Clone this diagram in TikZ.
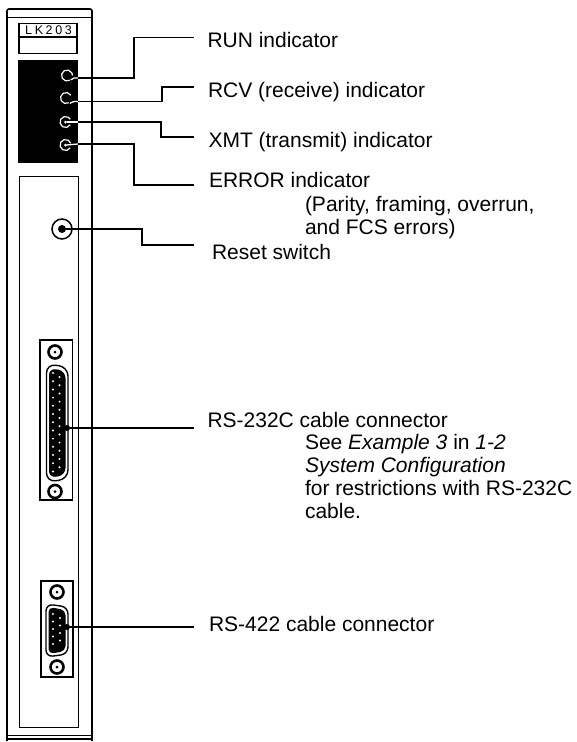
\documentclass[tikz,border=0pt]{standalone}
\usepackage{fontspec}
\setmainfont{Liberation Sans}
\tikzset{
 thick line/.style={line width=1.6pt},
 thin line/.style={line width=0.9pt},
 leader/.style={line width=1.3pt},
 lbl/.style={anchor=base west,inner sep=0pt,outer sep=0pt,font=\fontsize{21}{24}\selectfont,align=left},
 led/.style={circle,minimum size=10pt,inner sep=0pt},
 ledring/.style={white,line width=1.2pt},
 screw/.style={circle,draw=black,line width=2.6pt,fill=white,minimum size=13pt,inner sep=0pt},
 pin/.style={fill=white,draw=none},
}
\begin{document}
\begin{tikzpicture}[x=1pt,y=-1pt]
\useasboundingbox (0,0) rectangle (577,742);
% housing
\draw[thick line,rounded corners=2pt] (7,741) -- (7,9) -- (92,9) -- (92,741);
\draw[thin line] (7,17) -- (92,17);
\draw[thin line] (7,735) -- (92,735);
\draw[thick line] (8,739) -- (91,739);
% label plate
\draw[line width=1.2pt] (19,23.5) rectangle (77,53.5);
\draw[line width=1.2pt] (19,37) -- (77,37);
\node[inner sep=0pt,font=\fontsize{12.5}{14}\selectfont] (model) at (48.5,30) {L\kern2.6pt K\kern2.6pt 2\kern2.6pt 0\kern2.6pt 3};
% black indicator block
\fill (18,60) rectangle (78,163);
% lower panel
\draw[thin line] (19.5,176.5) rectangle (78.5,727);
% LEDs
\node[led] (runled) at (67,75.5) {};
\node[led] (rcvled) at (66,98) {};
\node[led] (xmtled) at (65.5,122) {};
\node[led] (errled) at (65.5,145) {};
\draw[ledring] (runled.center) ++(60:5.5) arc[start angle=60,end angle=360,radius=5.5];
\draw[ledring] (rcvled.center) ++(60:5.5) arc[start angle=60,end angle=330,radius=5.5];
\draw[ledring] (xmtled.center) ++(30:5.5) arc[start angle=30,end angle=330,radius=5.5];
\draw[ledring] (errled.center) ++(30:5.5) arc[start angle=30,end angle=340,radius=5.5];
\coordinate (runedge) at (78,78);
\coordinate (rcvedge) at (78,101.5);
\coordinate (xmtedge) at (78,122);
\coordinate (erredge) at (78,144);
\draw[white,leader,rounded corners=2pt] (runled.center) ++(4,4.5) -- (72,78) -- (runedge);
\draw[white,leader,rounded corners=2pt] (rcvled.center) ++(4,5.5) -- (72,101.5) -- (rcvedge);
\draw[white,leader] (xmtled.center) ++(1,0) -- (xmtedge);
\draw[white,leader] (errled.center) ++(1,0) -- (erredge);
\fill[white] (xmtled.center) circle (1.5);
\fill[white] (errled.center) circle (1.5);
% leaders
\coordinate (runend) at (194,37.5);
\coordinate (rcvend) at (194,87);
\coordinate (xmtend) at (194,137);
\coordinate (errend) at (194,185);
\draw[leader] (runedge) -- (134,78) -- (134,37.5) -- (runend);
\draw[leader] (rcvedge) -- (162,101.5) -- (162,87) -- (rcvend);
\draw[leader] (xmtedge) -- (161,122) -- (161,137) -- (xmtend);
\draw[leader] (erredge) -- (134,144) -- (134,185) -- (errend);
% reset switch
\node[circle,draw=black,line width=1.5pt,fill=white,minimum size=20pt,inner sep=0pt] (reset) at (62,229) {};
\fill (reset.center) circle (4);
\coordinate (resetend) at (194,245);
\draw[leader] (reset.center) -- (142,229) -- (142,245) -- (resetend);
% DB25
\draw[line width=1.2pt] (40,340) rectangle (72.5,500);
\node[screw] (s1) at (55,352) {};
\node[screw] (s2) at (55,491.5) {};
\fill (s1.center) circle (1.5);
\fill (s2.center) circle (1.5);
\draw[line width=1.4pt,fill=white,rounded corners=9pt] (46.5,364) -- (68,367) -- (68,479) -- (46.5,482) -- cycle;
\fill[rounded corners=7pt] (49,368) -- (65.5,371) -- (65.5,475) -- (49,478) -- cycle;
\foreach \i in {0,...,12}{\fill[pin] (53,{373+\i*8.2}) circle (1.1);}
\foreach \i in {0,...,11}{\fill[pin] (59.5,{377+\i*8.2}) circle (1.1);}
\node[circle,fill=black,minimum size=6pt,inner sep=0pt] (p25) at (67,428) {};
\coordinate (p25end) at (194,428);
\draw[leader] (p25) -- (p25end);
% DB9
\draw[line width=1.2pt] (41,581) rectangle (73,677);
\node[screw] (s3) at (57,592) {};
\node[screw] (s4) at (57,667) {};
\fill (s3.center) circle (1.5);
\fill (s4.center) circle (1.5);
\draw[line width=1.4pt,fill=white,rounded corners=7pt] (46,604) -- (68,607) -- (68,654) -- (46,657) -- cycle;
\fill[rounded corners=5pt] (48.5,607) -- (65.5,610) -- (65.5,651) -- (48.5,654) -- cycle;
\foreach \i in {0,...,4}{\fill[pin] (53,{614+\i*7.5}) circle (1.2);}
\foreach \i in {0,...,3}{\fill[pin] (60,{618+\i*7.5}) circle (1.2);}
\node[circle,fill=black,minimum size=6pt,inner sep=0pt] (p9) at (67,627) {};
\coordinate (p9end) at (194,627);
\draw[leader] (p9) -- (p9end);
% labels
\node[lbl] (t1) at (207.5,47.3) {RUN indicator};
\node[lbl] (t2) at (208,97) {RCV (receive) indicator};
\node[lbl] (t3) at (208.5,147) {XMT (transmit) indicator};
\node[lbl] (t4) at (209,187) {ERROR indicator};
\node[lbl] (t5) at (305,211) {(Parity, framing, overrun,};
\node[lbl] (t6) at (305,234) {and FCS errors)};
\node[lbl] (t7) at (212,259) {Reset switch};
\node[lbl] (t8) at (207.5,427) {RS-232C cable connector};
\node[lbl] (t9) at (305,449) {See \textit{Example 3} in \textit{1-2}};
\node[lbl] (t10) at (305,472) {\textit{System Configuration}};
\node[lbl] (t11) at (305,495) {for restrictions with RS-232C};
\node[lbl] (t12) at (305,518) {cable.};
\node[lbl] (t13) at (209,631) {RS-422 cable connector};
\end{tikzpicture}
\end{document}
